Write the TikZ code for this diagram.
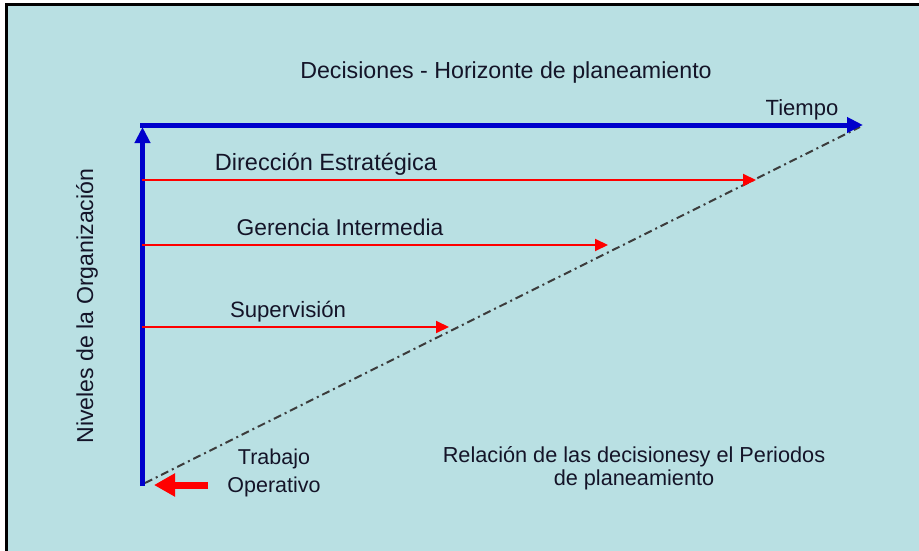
\documentclass[tikz,border=0pt]{standalone}
\usepackage{fontspec}
\setmainfont{Liberation Sans}
\usetikzlibrary{arrows.meta}
\definecolor{bg}{RGB}{185,224,227}
\definecolor{ink}{RGB}{20,20,40}
\definecolor{axisblue}{RGB}{0,0,204}
\definecolor{redline}{RGB}{255,0,0}
\definecolor{dashgray}{RGB}{60,60,60}
\begin{document}
\begin{tikzpicture}[x=1pt,y=-1pt,
  txt/.style={font=\fontsize{#1}{#1}\selectfont, text=ink, inner sep=0pt, anchor=base},
  axis/.style={draw=axisblue, line width=5pt, -{Triangle[length=16pt,width=15pt]}},
  level/.style={draw=redline, line width=2pt, -{Triangle[length=13pt,width=12pt]}},
  bigarrow/.style={draw=redline, line width=7pt, -{Triangle[length=21pt,width=22pt]}},
  diag/.style={draw=dashgray, line width=2pt, dash pattern=on 8pt off 4pt on 2pt off 4pt}]
\useasboundingbox (0,0) rectangle (919,551);
\fill[bg] (6,5) rectangle (919,551);
\draw[line width=2.5pt] (6.5,551) -- (6.5,4.5) -- (919,4.5);

% coordinates
\coordinate (corner) at (140,125);
\coordinate (tend) at (863,125);
\coordinate (origin) at (142.5,486);
\coordinate (vtop) at (142.5,127);
\coordinate (dstart) at (145,483);
\coordinate (dend) at (860,127);
\coordinate (l1s) at (142,180);
\coordinate (l1e) at (756,180);
\coordinate (l2s) at (142,245);
\coordinate (l2e) at (608,245);
\coordinate (l3s) at (142,327);
\coordinate (l3e) at (449,327);
\coordinate (bas) at (208,485);
\coordinate (bae) at (154,485);

% diagonal
\draw[diag] (dstart) -- (dend);
% axes
\draw[axis] (corner) -- (tend);
\draw[axis] (origin) -- (vtop);
% levels
\draw[level] (l1s) -- (l1e);
\draw[level] (l2s) -- (l2e);
\draw[level] (l3s) -- (l3e);
\draw[bigarrow] (bas) -- (bae);

% texts
\node[txt=23.2] (title) at (506,78) {Decisiones - Horizonte de planeamiento};
\node[txt=22] (tiempo) at (802,115) {Tiempo};
\node[txt=23.5] (dir) at (326,170) {Dirección Estratégica};
\node[txt=22.8] (ger) at (340,235) {Gerencia Intermedia};
\node[txt=22.2] (sup) at (288,317) {Supervisión};
\node[txt=21.5] (trab) at (274,464) {Trabajo};
\node[txt=21.5] (oper) at (274,492) {Operativo};
\node[txt=21.7] (rel1) at (634,462) {Relación de las decisionesy el Periodos};
\node[txt=21.7] (rel2) at (634,485) {de planeamiento};
\node[txt=23.1, rotate=90] (niv) at (93,306) {Niveles de la Organización};
\end{tikzpicture}
\end{document}
